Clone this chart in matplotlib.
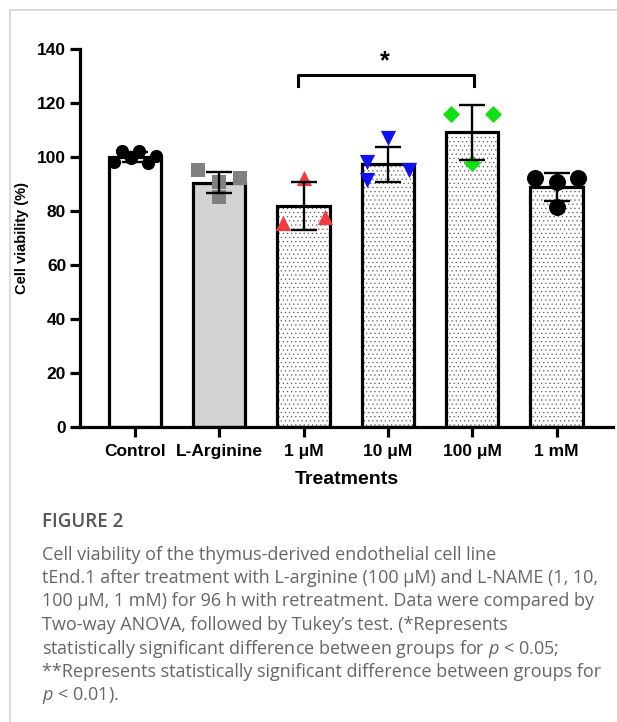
import matplotlib.pyplot as plt
from matplotlib.lines import Line2D

# data
groups = ['Control', 'L-Arginine', '1 μM', '10 μM', '100 μM', '1 mM']
means = [100.0, 90.5, 81.8, 97.3, 109.1, 88.8]
sds = [2.0, 4.0, 9.0, 6.5, 10.3, 5.2]

ctrl_x = [-0.25, -0.15, -0.05, 0.05, 0.15, 0.25]
ctrl_y = [98.0, 102.3, 99.5, 102.3, 97.6, 100.4]
larg_x = [-0.25, 0.0, 0.25, 0.0]
larg_y = [95.2, 90.9, 92.1, 85.3]
um1_x = [-0.25, 0.0, 0.25]
um1_y = [75.7, 92.1, 77.9]
um10_x = [-0.25, -0.25, 0.0, 0.25]
um10_y = [98.3, 91.5, 106.9, 95.2]
um100_x = [-0.25, 0.25, 0.0]
um100_y = [115.8, 115.8, 97.9]
mm1_x = [-0.25, 0.0, 0.25, 0.0]
mm1_y = [92.3, 90.9, 92.3, 81.6]

caption_title = "FIGURE 2"
caption_lines = [
    "Cell viability of the thymus-derived endothelial cell line",
    "tEnd.1 after treatment with L-arginine (100 μM) and L-NAME (1, 10,",
    "100 μM, 1 mM) for 96 h with retreatment. Data were compared by",
    "Two-way ANOVA, followed by Tukey’s test. (*Represents",
    "statistically significant difference between groups for $\\mathit{p}$ < 0.05;",
    "**Represents statistically significant difference between groups for",
    "$\\mathit{p}$ < 0.01).",
]

plt.rcParams['font.family'] = ['Liberation Sans', 'DejaVu Sans']
plt.rcParams['hatch.linewidth'] = 0.35
plt.rcParams['mathtext.fontset'] = 'custom'
plt.rcParams['mathtext.it'] = 'Open Sans:italic'

fig = plt.figure(figsize=(6.17, 7.22), dpi=100)
ax = fig.add_axes([0.1297, 0.4086, 0.8638, 0.5235])

x = list(range(len(groups)))
fills = ['white', '#d3d3d3', 'white', 'white', 'white', 'white']
dotted = [False, False, True, True, True, True]
for i in x:
    ax.bar(i, means[i], width=0.62, color=fills[i], linewidth=0, zorder=2)
    if dotted[i]:
        # dot pattern only (grey dots), outline drawn separately
        ax.bar(i, means[i], width=0.62, color='none', edgecolor='#505050',
               linewidth=0, hatch='....', zorder=2)
    ax.bar(i, means[i], width=0.62, color='none', edgecolor='black',
           linewidth=2.3, zorder=2)

pts = [
    (ctrl_x, ctrl_y, 'o', 'black', 90),
    (larg_x, larg_y, 's', '#808080', 110),
    (um1_x, um1_y, '^', '#f03c3c', 120),
    (um10_x, um10_y, 'v', '#1010f0', 120),
    (um100_x, um100_y, 'D', '#11e011', 75),
    (mm1_x, mm1_y, 'o', 'black', 150),
]
for i, (dx, yy, mk, col, sz) in enumerate(pts):
    ax.scatter([i + d for d in dx], yy, marker=mk, color=col, s=sz,
               linewidths=0, zorder=3)

ax.errorbar(x, means, yerr=sds, fmt='none', ecolor='black', elinewidth=1.7,
            capsize=9.5, capthick=1.7, zorder=4)

# significance bracket 1 uM vs 100 uM
ax.plot([1.93, 1.93, 4.02, 4.02], [126.2, 130.4, 130.4, 126.2], color='black',
        lw=2.2, clip_on=False, zorder=4)
ax.text(2.96, 131.0, '*', ha='center', va='bottom', fontsize=18, fontweight='bold')

ax.set_xlim(-0.652, 5.67)
ax.set_ylim(0, 140)
ax.set_yticks(range(0, 141, 20))
ax.set_xticks(x)
ax.set_xticklabels(groups)
for s in ['top', 'right']:
    ax.spines[s].set_visible(False)
for s in ['left', 'bottom']:
    ax.spines[s].set_linewidth(2.3)
ax.tick_params(width=2.3, length=7, labelsize=12.5, pad=3)
ax.tick_params(axis='x', pad=5)
for lab in ax.get_xticklabels() + ax.get_yticklabels():
    lab.set_fontweight('bold')
ax.set_xlabel('Treatments', fontsize=14, fontweight='bold', labelpad=9)
ax.set_ylabel('Cell viability (%)', fontsize=10.5, fontweight='bold', labelpad=6)

# page frame (top and left)
fig.add_artist(Line2D([9.5 / 617, 9.5 / 617], [0, 1 - 9.5 / 722], color='#d4d4d4',
                      lw=1.2, transform=fig.transFigure))
fig.add_artist(Line2D([9.5 / 617, 1], [1 - 9.5 / 722, 1 - 9.5 / 722], color='#d4d4d4',
                      lw=1.2, transform=fig.transFigure))

fig.text(42 / 617, 1 - 522 / 722, caption_title, fontsize=13.5, color='#555555',
         family='Open Sans', fontweight='semibold', va='center')
for k, line in enumerate(caption_lines):
    fig.text(42 / 617, 1 - (554.5 + 23.5 * k) / 722, line, fontsize=13,
             color='#666666', family='Open Sans', va='center')

fig.savefig('out.png', dpi=100, facecolor='white')
